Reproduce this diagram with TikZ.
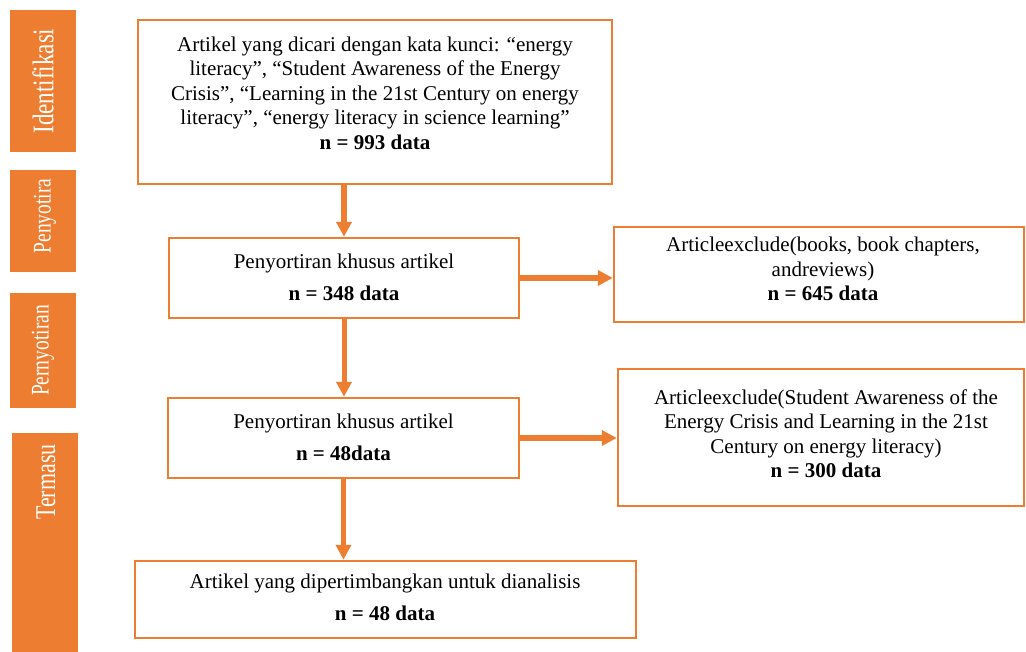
\documentclass[tikz,border=0pt]{standalone}
\usepackage{fontspec}
\setmainfont{Liberation Serif}
\usetikzlibrary{arrows.meta}
\definecolor{org}{HTML}{ED7D31}
\newcommand{\tallt}[1]{\scalebox{1}[1.3]{#1}}
\begin{document}
\begin{tikzpicture}[x=1pt,y=-1pt,
  box/.style={draw=org, line width=2.5pt, inner sep=0pt},
  txt/.style={align=center, font=\fontsize{21}{24.5}\selectfont, inner sep=0pt},
  side/.style={fill=org, inner sep=0pt, rotate=90, text=white},
  arr/.style={draw=org, line width=5pt, -{Triangle[length=15pt,width=15pt]}}]
\useasboundingbox (0,0) rectangle (1026,651);
% side labels
\node[side, minimum width=142, minimum height=66, font=\fontsize{23}{23}\selectfont] (s1) at (43,81) {\tallt{Identifikasi}};
\node[side, minimum width=102, minimum height=66] (s2) at (43,221) {};
\node[text=white, rotate=90, inner sep=0pt, font=\fontsize{19.5}{20}\selectfont] (l2) at (45,216) {\tallt{Penyotira}};
\node[side, minimum width=115, minimum height=66, font=\fontsize{19.5}{20}\selectfont] (s3) at (43,350.5) {\tallt{Pernyotiran}};
\node[side, minimum width=230, minimum height=66] (s4) at (45,548) {};
\node[text=white, rotate=90, inner sep=0pt, font=\fontsize{22}{22}\selectfont] (l4) at (46,482) {\tallt{Termasu}};
% boxes
\node[box, minimum width=474, minimum height=164] (b1) at (375,102) {};
\node[txt] (t1) at (375,93) {Artikel yang dicari dengan kata kunci: “energy\\literacy”, “Student Awareness of the Energy\\Crisis”, “Learning in the 21st Century on energy\\literacy”, “energy literacy in science learning”\\\textbf{n = 993 data}};
\node[box, minimum width=350, minimum height=80] (b2) at (344,278) {};
\node[txt] (t2) at (344,277.5) {Penyortiran khusus artikel\\[7pt]\textbf{n = 348 data}};
\node[box, minimum width=410, minimum height=95] (b3) at (819,274.5) {};
\node[txt] (t3) at (823,269) {Articleexclude(books, book chapters,\\andreviews)\\\textbf{n = 645 data}};
\node[box, minimum width=351, minimum height=80] (b4) at (343.5,438) {};
\node[txt] (t4) at (343.5,437.5) {Penyortiran khusus artikel\\[7pt]\textbf{n = 48data}};
\node[box, minimum width=406, minimum height=137] (b5) at (821,437.5) {};
\node[txt] (t5) at (826,433.5) {Articleexclude(Student Awareness of the\\Energy Crisis and Learning in the 21st\\Century on energy literacy)\\\textbf{n = 300 data}};
\node[box, minimum width=501, minimum height=77] (b6) at (385.5,599.5) {};
\node[txt] (t6) at (385,597.5) {Artikel yang dipertimbangkan untuk dianalisis\\[7pt]\textbf{n = 48 data}};
% arrows
\draw[arr, line width=5.5pt] (b1.south -| b2.north) -- (b2.north);
\draw[arr, line width=6.5pt] (b2.east) -- (b2.east -| b3.west);
\draw[arr] (b2.south) -- (b2.south |- b4.north);
\draw[arr, line width=6.5pt] (b4.east) -- (b4.east -| b5.west);
\draw[arr] (b4.south) -- (b4.south |- b6.north);
\end{tikzpicture}
\end{document}
